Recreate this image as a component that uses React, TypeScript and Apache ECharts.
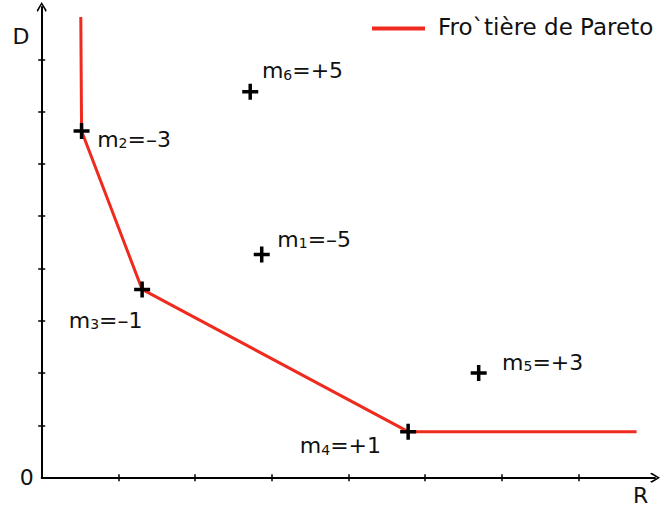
import React, { useEffect, useRef } from "react";
import * as echarts from "echarts";

// ---- data ----
const seriesName = "Fro`tière de Pareto";
const frontierR = [0.51, 0.52, 1.31, 4.78, 7.76];
const frontierD = [8.81, 6.63, 3.6, 0.88, 0.88];

const pointNames = ["m1", "m2", "m3", "m4", "m5", "m6"];
const pointSubs = ["1", "2", "3", "4", "5", "6"];
const pointScores = ["–5", "–3", "–1", "+1", "+3", "+5"];
const pointR = [2.87, 0.52, 1.31, 4.78, 5.7, 2.72];
const pointD = [4.27, 6.63, 3.6, 0.88, 2.0, 7.38];

const xTicks = [1, 2, 3, 4, 5, 6, 7];
const yTicks = [1, 2, 3, 4, 5, 6, 7, 8];
const yLabels = [0];
const xName = "R";
const yName = "D";

// ---- layout (label offsets from the marker centre: [left edge dx, vertical centre dy]) ----
const labelOffsets: number[][] = [
  [15.6, -15.3],
  [15.6, 8.3],
  [-73.4, 30.7],
  [-108.3, 14],
  [23.4, -11],
  [11.7, -21],
];

const FONT = "DejaVu Sans";
const RED = "#ef2a1e";
const CROSS = "path://M6.25,0H9.75V6.25H16V9.75H9.75V16H6.25V9.75H0V6.25H6.25Z";
const ARROW = "path://M50,0L100,82L90,100L50,28L10,100L0,82Z";

export default function App() {
  const ref = useRef<HTMLDivElement>(null);
  useEffect(() => {
    document.body.style.margin = "0";
    const chart = echarts.init(ref.current!, null, { renderer: "svg" });
    const baseAxis = {
      type: "value" as const,
      splitLine: { show: false },
      axisLabel: { show: false },
    };
    chart.setOption({
      animation: false,
      grid: { left: 41.7, right: 10, top: 7, bottom: 30.3 },
      legend: {
        data: [seriesName],
        left: 372,
        top: 15.5,
        padding: 0,
        icon: "rect",
        itemWidth: 53,
        itemHeight: 4,
        itemStyle: { color: RED },
        formatter: (n: string) => `{t|${n}}`,
        textStyle: {
          rich: {
            t: {
              fontFamily: FONT,
              fontSize: 23,
              color: "#111",
              padding: [0, 0, 3, 8],
            },
          },
        },
      },
      xAxis: [
        {
          ...baseAxis,
          min: 0,
          max: 8,
          axisLine: {
            onZero: false,
            lineStyle: { color: "#000", width: 2 },
            symbol: ["none", ARROW],
            symbolSize: [13, 10],
          },
          axisTick: { show: false },
        },
        {
          ...baseAxis,
          min: 0,
          max: 8,
          position: "bottom",
          offset: -3.5,
          axisLine: { show: false, onZero: false },
          axisTick: {
            show: true,
            length: 7,
            customValues: xTicks,
            lineStyle: { color: "#000", width: 1.5 },
          },
        },
      ],
      yAxis: [
        {
          type: "value",
          min: 0,
          max: 9,
          splitLine: { show: false },
          axisLine: {
            show: true,
            onZero: false,
            lineStyle: { color: "#000", width: 2 },
            symbol: ["none", ARROW],
            symbolSize: [13, 10],
          },
          axisTick: { show: false },
          axisLabel: {
            show: true,
            customValues: yLabels,
            margin: 8,
            fontFamily: FONT,
            fontSize: 22,
            color: "#111",
          },
        },
        {
          ...baseAxis,
          min: 0,
          max: 9,
          position: "left",
          offset: -3.5,
          axisLine: { show: false, onZero: false },
          axisTick: {
            show: true,
            length: 7,
            customValues: yTicks,
            lineStyle: { color: "#000", width: 1.5 },
          },
        },
      ],
      graphic: [
        {
          type: "text",
          x: 21,
          y: 36,
          style: {
            text: yName,
            font: `22px "${FONT}"`,
            fill: "#111",
            textAlign: "center",
            textVerticalAlign: "middle",
          },
        },
        {
          type: "text",
          x: 640.7,
          y: 495.7,
          style: {
            text: xName,
            font: `22px "${FONT}"`,
            fill: "#111",
            textAlign: "center",
            textVerticalAlign: "middle",
          },
        },
      ],
      series: [
        {
          name: seriesName,
          type: "line",
          symbol: "none",
          data: frontierR.map((r, i) => [r, frontierD[i]]),
          lineStyle: { color: RED, width: 3 },
          itemStyle: { color: RED },
          z: 2,
        },
        {
          name: "points",
          type: "scatter",
          symbol: CROSS,
          symbolSize: 16,
          itemStyle: { color: "#000", opacity: 1 },
          z: 3,
          data: pointR.map((r, i) => ({
            name: pointNames[i],
            value: [r, pointD[i]],
            label: {
              show: true,
              position: "inside",
              align: "left",
              verticalAlign: "middle",
              offset: labelOffsets[i],
              formatter: `{a|m}{s|${pointSubs[i]}}{a|=${pointScores[i]}}`,
              rich: {
                a: {
                  fontFamily: FONT,
                  fontSize: 22,
                  color: "#111",
                  verticalAlign: "bottom",
                  lineHeight: 22,
                },
                s: {
                  fontFamily: FONT,
                  fontSize: 14,
                  color: "#111",
                  verticalAlign: "bottom",
                  lineHeight: 19,
                },
              },
            },
          })),
        },
      ],
    });
    return () => chart.dispose();
  }, []);
  return <div ref={ref} style={{ width: 665, height: 508 }} />;
}
